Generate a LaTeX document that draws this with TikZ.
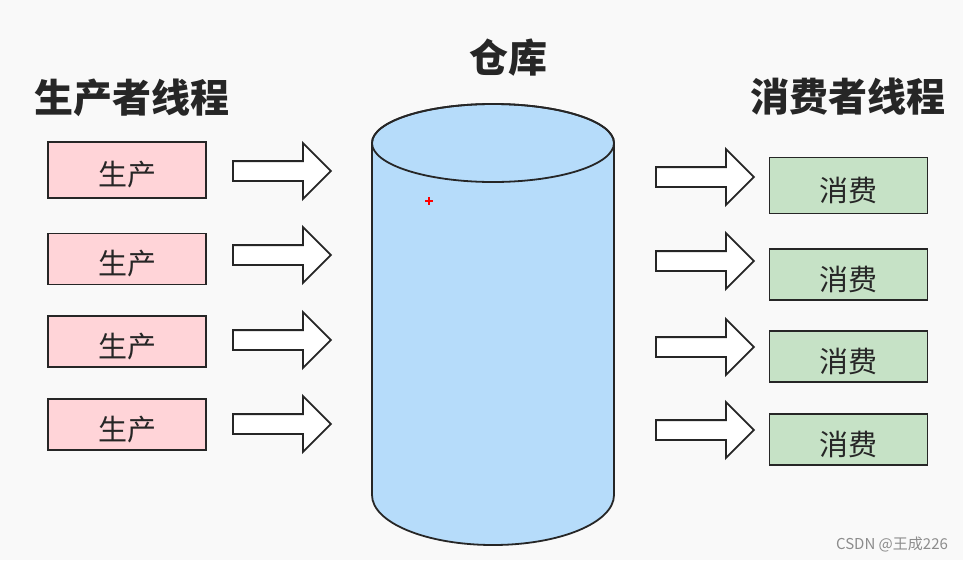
\documentclass[tikz,border=0pt]{standalone}
\usepackage{fontspec}
\newfontfamily\cjk{Noto Sans CJK SC}
\usetikzlibrary{shapes.arrows}

\definecolor{bgcol}{RGB}{249,249,249}
\definecolor{prodfill}{RGB}{255,212,216}
\definecolor{consfill}{RGB}{198,226,198}
\definecolor{storefill}{RGB}{182,220,250}
\definecolor{inkcol}{RGB}{38,38,38}

\tikzset{
	prodbox/.style={draw=inkcol, line width=1.9pt, fill=prodfill, minimum width=158pt, minimum height=51pt, inner sep=0pt, text height=33pt, text depth=1.5pt, font=\cjk\fontsize{29}{29}\selectfont, text=inkcol},
	consbox/.style={prodbox, fill=consfill},
	fatarrow/.style={single arrow, draw=inkcol, fill=white, line width=1.8pt, minimum height=98pt, inner xsep=0pt, inner ysep=9pt, single arrow head extend=18pt},
	headline/.style={font=\cjk\bfseries\fontsize{39}{39}\selectfont, text=inkcol}
}

\begin{document}
\begin{tikzpicture}[x=1pt, y=-1pt]
		% Background
		\fill[bgcol] (0,0) rectangle (963,560);
		\useasboundingbox (0,0) rectangle (963,560);
		% Titles
		\node[headline] (prodtitle) at (132,98) {生产者线程};
		\node[headline] (storetitle) at (508,58) {仓库};
		\node[headline] (constitle) at (848,97) {消费者线程};
		% Storage cylinder
		\draw[line width=1.8pt, draw=inkcol, fill=storefill] (372,143) -- (372,495)
			arc[start angle=180, end angle=0, x radius=121, y radius=50] -- (614,143)
			arc[start angle=0, end angle=-180, x radius=121, y radius=39] -- cycle;
		\draw[line width=1.8pt, draw=inkcol] (493,143) ellipse [x radius=121, y radius=39];
		% Cursor mark
		\draw[red, line width=1.2pt] (425,201) -- (433,201) (429,197) -- (429,205);
		% Producers
		\node[prodbox, minimum height=56pt] (prod1) at (127,170) {生产};
		\node[prodbox] (prod2) at (127,259) {生产};
		\node[prodbox] (prod3) at (127,341.5) {生产};
		\node[prodbox] (prod4) at (127,424.5) {生产};
		\node[fatarrow] (parrow1) at (277,171) {};
		\node[fatarrow] (parrow2) at (277,255) {};
		\node[fatarrow] (parrow3) at (277,340) {};
		\node[fatarrow] (parrow4) at (277,424) {};
		% Consumers
		\node[fatarrow] (carrow1) at (700,177) {};
		\node[fatarrow] (carrow2) at (700,261) {};
		\node[fatarrow] (carrow3) at (700,347) {};
		\node[fatarrow] (carrow4) at (700,430) {};
		\node[consbox, minimum height=56pt] (cons1) at (848.5,185.5) {消费};
		\node[consbox] (cons2) at (848.5,274.5) {消费};
		\node[consbox] (cons3) at (848.5,356.5) {消费};
		\node[consbox] (cons4) at (848.5,439.5) {消费};
		% Watermark
		\node[font=\cjk\fontsize{15}{15}\selectfont, text=black!45] (mark) at (892,544) {CSDN @王成226};
	\end{tikzpicture}
\end{document}
